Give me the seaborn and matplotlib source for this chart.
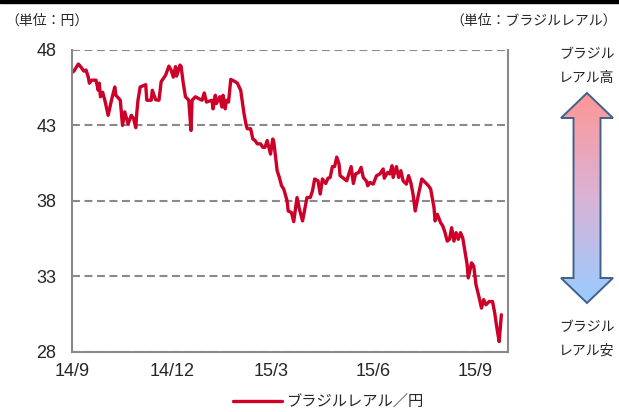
import numpy as np
import pandas as pd
import matplotlib
matplotlib.use('Agg')
import matplotlib.pyplot as plt
import seaborn as sns
from matplotlib.patches import Polygon, Rectangle
from matplotlib.colors import LinearSegmentedColormap

# days after 2014-09-01 and BRL/JPY rate
days = [0, 2, 6, 8, 11, 13, 15, 16, 18, 22, 24, 25, 26, 28, 30, 33, 36, 39, 40, 44,
        46, 48, 51, 54, 56, 58, 59, 60, 62, 67, 68, 72, 73, 76, 79, 81, 85, 88, 90, 92,
        94, 95, 98, 99, 101, 103, 106, 108, 109, 112, 115, 118, 120, 122, 127, 128, 130, 131, 134, 136,
        137, 139, 140, 142, 144, 148, 150, 153, 156, 158, 159, 162, 164, 166, 168, 171, 173, 175, 177, 180,
        182, 183, 186, 188, 190, 192, 195, 196, 199, 201, 204, 206, 209, 213, 216, 218, 220, 223, 225, 227,
        230, 232, 234, 236, 238, 240, 242, 243, 246, 249, 253, 255, 257, 260, 262, 264, 267, 268, 270, 273,
        276, 279, 282, 283, 286, 288, 290, 291, 294, 296, 298, 300, 303, 305, 307, 309, 311, 314, 317, 320,
        323, 325, 328, 329, 331, 334, 336, 338, 340, 342, 344, 346, 348, 350, 352, 354, 356, 358, 359, 362,
        364, 366, 369, 371, 373, 375, 378, 381, 383, 385, 387, 389]
rate = [46.49, 46.6, 47.07, 46.9, 46.6, 46.67, 46.2, 45.8, 46.0, 46.0, 45.33, 45.8, 44.9, 45.2, 44.67, 43.67, 44.67, 45.55, 45.0, 44.67,
        43.0, 43.9, 43.1, 43.67, 43.45, 42.85, 43.9, 44.67, 45.55, 45.7, 44.67, 44.67, 45.33, 44.7, 44.67, 45.9, 46.33, 46.93, 46.67, 46.2,
        46.9, 46.27, 47.0, 46.93, 45.8, 44.9, 44.67, 42.67, 44.67, 44.9, 44.78, 44.67, 45.15, 44.55, 44.67, 44.1, 45.0, 44.45, 44.9, 44.22,
        45.0, 44.1, 44.67, 44.55, 46.05, 45.9, 45.8, 45.33, 43.78, 43.0, 42.78, 42.78, 42.1, 42.0, 41.78, 41.78, 41.55, 41.55, 42.0, 41.1,
        42.1, 41.9, 40.0, 39.55, 39.0, 38.78, 38.0, 37.33, 37.22, 36.62, 38.22, 37.5, 36.67, 38.22, 38.22, 38.67, 39.45, 39.33, 38.45, 39.45,
        39.15, 39.5, 39.55, 40.27, 40.27, 40.9, 40.45, 39.67, 39.5, 39.33, 40.27, 39.15, 39.78, 39.89, 40.22, 39.55, 39.29, 39.0, 39.22, 39.11,
        39.67, 39.78, 40.11, 39.5, 39.89, 39.78, 40.33, 39.55, 40.27, 39.55, 40.0, 39.33, 39.11, 39.67, 39.22, 38.45, 37.33, 38.45, 39.45, 39.22,
        39.0, 38.78, 37.55, 36.67, 37.11, 36.55, 36.33, 35.89, 35.33, 35.45, 36.22, 35.33, 35.89, 35.45, 35.89, 35.55, 34.67, 33.78, 32.89, 33.89,
        33.67, 32.45, 31.55, 30.89, 31.45, 31.11, 31.33, 31.33, 30.55, 29.55, 28.67, 30.45]

tick_dates = ['2014-09-01', '2014-12-01', '2015-03-01', '2015-06-01', '2015-09-01']
tick_labels = ['14/9', '14/12', '15/3', '15/6', '15/9']
y_ticks = [28, 33, 38, 43, 48]

df = pd.DataFrame({'date': pd.Timestamp('2014-09-01') + pd.to_timedelta(days, unit='D'),
                   'rate': rate})

sns.set_style('white')
plt.rcParams['font.family'] = ['Liberation Sans', 'Noto Sans CJK JP', 'DejaVu Sans']
jp = ['Noto Sans CJK JP', 'DejaVu Sans']

W, H = 619, 412
fig = plt.figure(figsize=(W / 100, H / 100), dpi=100)
ax = fig.add_axes([71.7 / W, 1 - 351.7 / H, (508 - 71.7) / W, (351.7 - 50) / H])

red = '#CC0029'
grey = '#8a8a8a'
sns.lineplot(data=df, x='date', y='rate', color=red, lw=2.4, ax=ax,
             label='ブラジルレアル／円')

ax.set_ylim(28, 48)
ax.set_xlim(pd.Timestamp('2014-09-01'), pd.Timestamp('2015-10-01'))
ax.set_yticks(y_ticks)
ax.set_xticks(pd.to_datetime(tick_dates))
ax.set_xticklabels(tick_labels)
ax.set_xlabel('')
ax.set_ylabel('')
ax.tick_params(axis='y', length=0, pad=11, labelsize=13)
ax.tick_params(axis='x', direction='in', length=4, width=1.2, color=grey, pad=8, labelsize=13)

ax.yaxis.grid(True, linestyle=(0, (3.8, 2.2)), color=grey, lw=1.5)
ax.xaxis.grid(False)
ax.spines['top'].set_visible(False)
for s in ['left', 'right', 'bottom']:
    ax.spines[s].set_color(grey)
    ax.spines[s].set_linewidth(1.5)

leg = ax.legend(loc='center', bbox_to_anchor=(328 / W, 1 - 402 / H), bbox_transform=fig.transFigure,
                frameon=False, handlelength=3.2, handletextpad=0.3, prop={'family': jp, 'size': 11})

# overlay in pixel coordinates for annotations and the arrow
ov = fig.add_axes([0, 0, 1, 1], zorder=5)
ov.set_xlim(0, W)
ov.set_ylim(H, 0)
ov.axis('off')
ov.patch.set_alpha(0)

fig.add_artist(Rectangle((0, 1 - 2.5 / H), 1, 2.5 / H, transform=fig.transFigure, color='black'))

ov.text(5, 21, '（単位：円）', family=jp, fontsize=10, ha='left', va='center')
ov.text(617, 21, '（単位：ブラジルレアル）', family=jp, fontsize=10, ha='right', va='center')
ov.text(587, 54, 'ブラジル', family=jp, fontsize=10, ha='center', va='center')
ov.text(587, 78, 'レアル高', family=jp, fontsize=10, ha='center', va='center')
ov.text(587, 327, 'ブラジル', family=jp, fontsize=10, ha='center', va='center')
ov.text(587, 351, 'レアル安', family=jp, fontsize=10, ha='center', va='center')

arrow_pts = [(587, 93), (613, 118), (600.5, 118), (600.5, 278), (613, 278), (587, 303),
             (561, 278), (573.5, 278), (573.5, 118), (561, 118)]
poly = Polygon(arrow_pts, closed=True, facecolor='none', edgecolor='#41618A', lw=1.4, zorder=3)
cmap = LinearSegmentedColormap.from_list('rb', ['#FF9696', '#D9B3D6', '#99CCFF'])
grad = np.linspace(0, 1, 256).reshape(-1, 1)
img = ov.imshow(grad, cmap=cmap, extent=(561, 613, 303, 93), origin='upper', aspect='auto', zorder=2)
ov.add_patch(poly)
img.set_clip_path(poly)
ov.set_xlim(0, W)
ov.set_ylim(H, 0)

fig.savefig('out.png', dpi=100)
